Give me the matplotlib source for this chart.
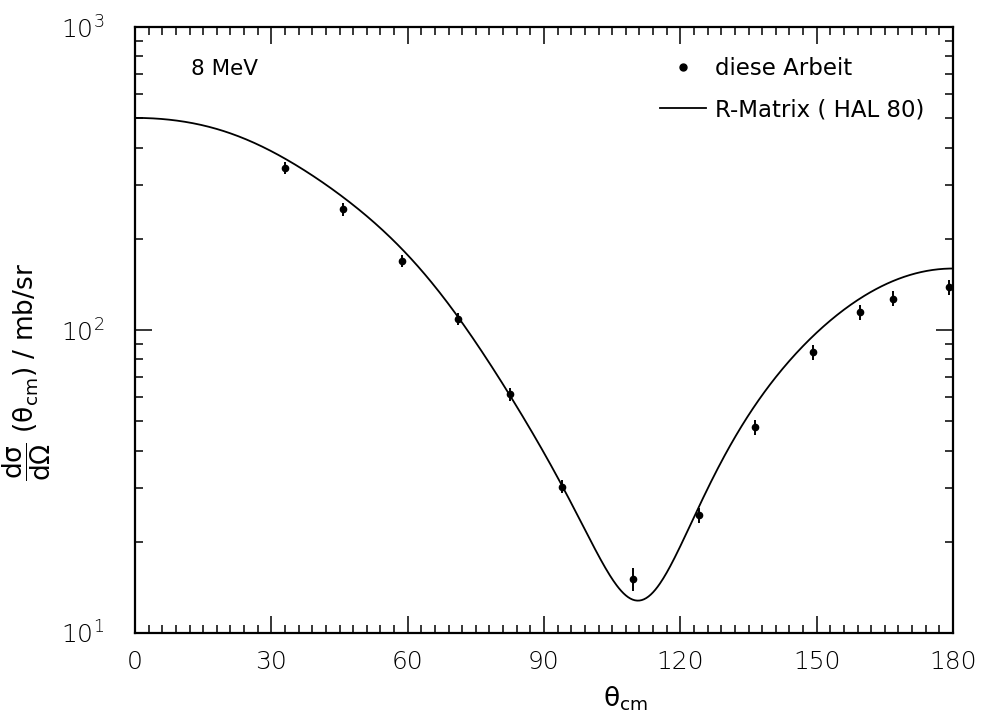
import numpy as np
import matplotlib
matplotlib.use("Agg")
import matplotlib.pyplot as plt
from matplotlib.ticker import MultipleLocator, LogLocator, FixedLocator, NullFormatter
from matplotlib.lines import Line2D

# measured data ("diese Arbeit")
theta_data = [32.9, 45.8, 58.8, 71.0, 82.5, 94.0, 109.6, 124.0, 136.5, 149.1, 159.6, 166.9, 179.1]
sigma_data = [342, 250, 169, 108.5, 61.5, 30.4, 15.1, 24.5, 47.7, 84.4, 114.4, 127.0, 138.4]
sigma_err = [16, 12, 8, 5, 3.0, 1.5, 1.3, 1.4, 2.7, 4.8, 6.5, 7.3, 8.0]

# R-Matrix (HAL 80) curve
theta_curve = [0, 7.3, 14.7, 22.0, 29.3, 36.7, 44.0, 51.3, 58.7, 66.0, 71.4, 82.5, 86.9,
               94.3, 101.6, 105.3, 108.9, 110.5, 114.1, 121.4, 128.7, 136.1, 143.4, 150.7,
               158.1, 165.4, 175.0, 180.0]
sigma_curve = [500, 496, 475, 440, 393, 342, 286, 237, 184, 140, 108, 61.8, 46.8,
               29.6, 18.8, 14.6, 12.9, 12.85, 14.2, 21.3, 35.4, 55.8, 77.6, 100,
               122.4, 142.6, 157.8, 159.0]

xticks = [0, 30, 60, 90, 120, 150, 180]

fig = plt.figure(figsize=(9.85, 7.18), dpi=100)
ax = fig.add_axes([135/985, 1-633/718, (953-135)/985, (633-27)/718])

# smooth least-squares Legendre fit (in cos theta) of the read curve, for drawing
ct = np.cos(np.radians(theta_curve))
leg_fit = np.polynomial.legendre.Legendre.fit(ct, np.array(sigma_curve), 10)
tt = np.linspace(0, 180, 721)
ax.plot(tt, leg_fit(np.cos(np.radians(tt))), color="black", lw=1.3)

ax.errorbar(theta_data, sigma_data, yerr=sigma_err, fmt="o", ms=4.5, color="black",
            ecolor="black", elinewidth=1.4, capsize=0)

ax.set_yscale("log")
ax.set_xlim(0, 180)
ax.set_ylim(10, 1000)

ax.xaxis.set_major_locator(FixedLocator(xticks))
ax.xaxis.set_minor_locator(MultipleLocator(3))
ax.yaxis.set_major_locator(LogLocator(base=10, numticks=5))
ax.yaxis.set_minor_locator(LogLocator(base=10, subs=np.arange(2, 10), numticks=20))
ax.yaxis.set_minor_formatter(NullFormatter())

ax.tick_params(which="both", direction="in", top=True, right=True, width=1.1)
ax.tick_params(which="major", length=12)
ax.tick_params(which="minor", length=6)
ax.tick_params(axis="x", which="major", labelsize=18, pad=12)
ax.tick_params(axis="y", which="major", labelsize=18, pad=22)
for lab in ax.get_xticklabels() + ax.get_yticklabels():
    lab.set_fontweight("light")
for s in ax.spines.values():
    s.set_linewidth(1.6)

ax.set_xlabel(r"θ$_{\rm cm}$", fontsize=19)
ax.xaxis.set_label_coords(0.60, -0.085)
ax.set_ylabel(r"$\dfrac{\rm d\sigma}{\rm d\Omega}$ (θ$_{\rm cm}$) / mb/sr", fontsize=19)
ax.yaxis.set_label_coords(-0.100, 0.43)

ax.text(0.068, 0.93, "8 MeV", transform=ax.transAxes, fontsize=15.5, va="center", ha="left")

handles = [Line2D([], [], marker="o", ls="none", ms=5, color="black"),
           Line2D([], [], color="black", lw=1.3)]
labels = ["diese Arbeit", "R-Matrix ( HAL 80)"]
ax.legend(handles, labels, loc="upper right", bbox_to_anchor=(0.99, 0.985),
          frameon=False, fontsize=16.5, handlelength=2.0, handletextpad=0.4,
          labelspacing=0.8)

fig.savefig("out.png", dpi=100)
